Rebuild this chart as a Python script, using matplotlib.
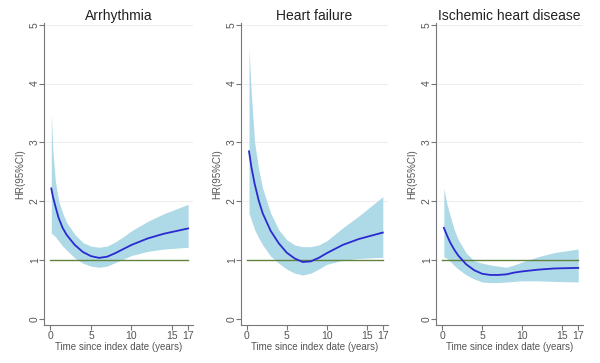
import matplotlib
matplotlib.use("Agg")
import matplotlib.pyplot as plt

plt.rcParams["font.family"] = ["Liberation Sans", "DejaVu Sans"]

titles = ["Arrhythmia", "Heart failure", "Ischemic heart disease"]

# Arrhythmia
t_arr = [0.1, 0.3, 0.6, 1, 1.5, 2, 3, 4, 5, 6, 7, 8, 9, 10, 12, 14, 17]
hr_arr = [2.22, 2.08, 1.92, 1.72, 1.55, 1.43, 1.26, 1.14, 1.07, 1.04, 1.06, 1.12, 1.19, 1.26, 1.37, 1.45, 1.54]
up_arr = [3.50, 2.85, 2.35, 2.02, 1.80, 1.64, 1.44, 1.30, 1.24, 1.22, 1.24, 1.31, 1.40, 1.50, 1.66, 1.79, 1.95]
lo_arr = [1.46, 1.44, 1.40, 1.33, 1.24, 1.17, 1.04, 0.95, 0.90, 0.88, 0.90, 0.96, 1.02, 1.08, 1.15, 1.19, 1.22]

# Heart failure
t_hf = [0.3, 0.6, 1, 1.5, 2, 3, 4, 5, 6, 7, 8, 9, 10, 12, 14, 17]
hr_hf = [2.85, 2.58, 2.30, 2.02, 1.80, 1.50, 1.29, 1.13, 1.03, 0.97, 0.98, 1.04, 1.12, 1.26, 1.36, 1.47]
up_hf = [4.60, 3.80, 3.00, 2.55, 2.22, 1.80, 1.52, 1.35, 1.26, 1.23, 1.23, 1.26, 1.33, 1.55, 1.75, 2.08]
lo_hf = [1.80, 1.68, 1.52, 1.38, 1.26, 1.07, 0.95, 0.85, 0.78, 0.75, 0.78, 0.85, 0.93, 1.00, 1.03, 1.05]

# Ischemic heart disease
t_ihd = [0.2, 0.6, 1, 1.5, 2, 3, 4, 5, 6, 7, 8, 9, 10, 12, 14, 17]
hr_ihd = [1.55, 1.42, 1.30, 1.18, 1.08, 0.93, 0.83, 0.77, 0.75, 0.75, 0.76, 0.79, 0.81, 0.84, 0.86, 0.87]
up_ihd = [2.22, 1.95, 1.75, 1.52, 1.35, 1.12, 0.99, 0.95, 0.92, 0.90, 0.88, 0.92, 0.97, 1.06, 1.13, 1.19]
lo_ihd = [1.06, 1.03, 0.98, 0.91, 0.85, 0.75, 0.68, 0.63, 0.62, 0.62, 0.63, 0.64, 0.65, 0.65, 0.64, 0.63]

panels = [
    (t_arr, hr_arr, up_arr, lo_arr),
    (t_hf, hr_hf, up_hf, lo_hf),
    (t_ihd, hr_ihd, up_ihd, lo_ihd),
]

xticks = [0, 5, 10, 15, 17]
yticks = [0, 1, 2, 3, 4, 5]

lefts = [44 / 600, 241 / 600, 436 / 600]
widths = [149 / 600, 147 / 600, 147 / 600]
xmins = [-0.8, -0.7, -0.78]
xmaxs = [17.6, 17.65, 17.6]

fig = plt.figure(figsize=(6, 3.63), dpi=100)
grey = "#555555"

for i, (t, hr, up, lo) in enumerate(panels):
    ax = fig.add_axes([lefts[i], 0.1047, widths[i], 0.832])
    for g in [2, 3, 4, 5]:
        ax.axhline(g, color="#eeeeee", lw=0.8, zorder=0)
    ax.fill_between(t, lo, up, color="#aed9e6", lw=0, zorder=1)
    ax.axhline(1, xmin=(0 - xmins[i]) / (xmaxs[i] - xmins[i]),
               xmax=(17 - xmins[i]) / (xmaxs[i] - xmins[i]),
               color="#62833f", lw=1.0, zorder=2)
    ax.plot(t, hr, color="#2a2ad0", lw=1.3, zorder=3)
    ax.set_xlim(xmins[i], xmaxs[i])
    ax.set_ylim(-0.1, 5.03)
    ax.set_xticks(xticks)
    ax.set_yticks(yticks)
    ax.set_yticklabels([str(v) for v in yticks], rotation=90, va="center")
    ax.spines["top"].set_visible(False)
    ax.spines["right"].set_visible(False)
    for s in ["left", "bottom"]:
        ax.spines[s].set_color("#777777")
        ax.spines[s].set_linewidth(0.8)
    ax.tick_params(colors="#777777", labelcolor=grey, labelsize=7.5, length=3.5, width=0.8)
    ax.tick_params(axis="x", pad=0.5)
    ax.tick_params(axis="y", pad=-0.5)
    ax.set_title(titles[i], fontsize=10, color="#222222", pad=0)
    ax.set_xlabel("Time since index date (years)", fontsize=7, color=grey, labelpad=1)
    ax.set_ylabel("HR(95%CI)", fontsize=7, color=grey, labelpad=3)

fig.savefig("out.png", dpi=100)
